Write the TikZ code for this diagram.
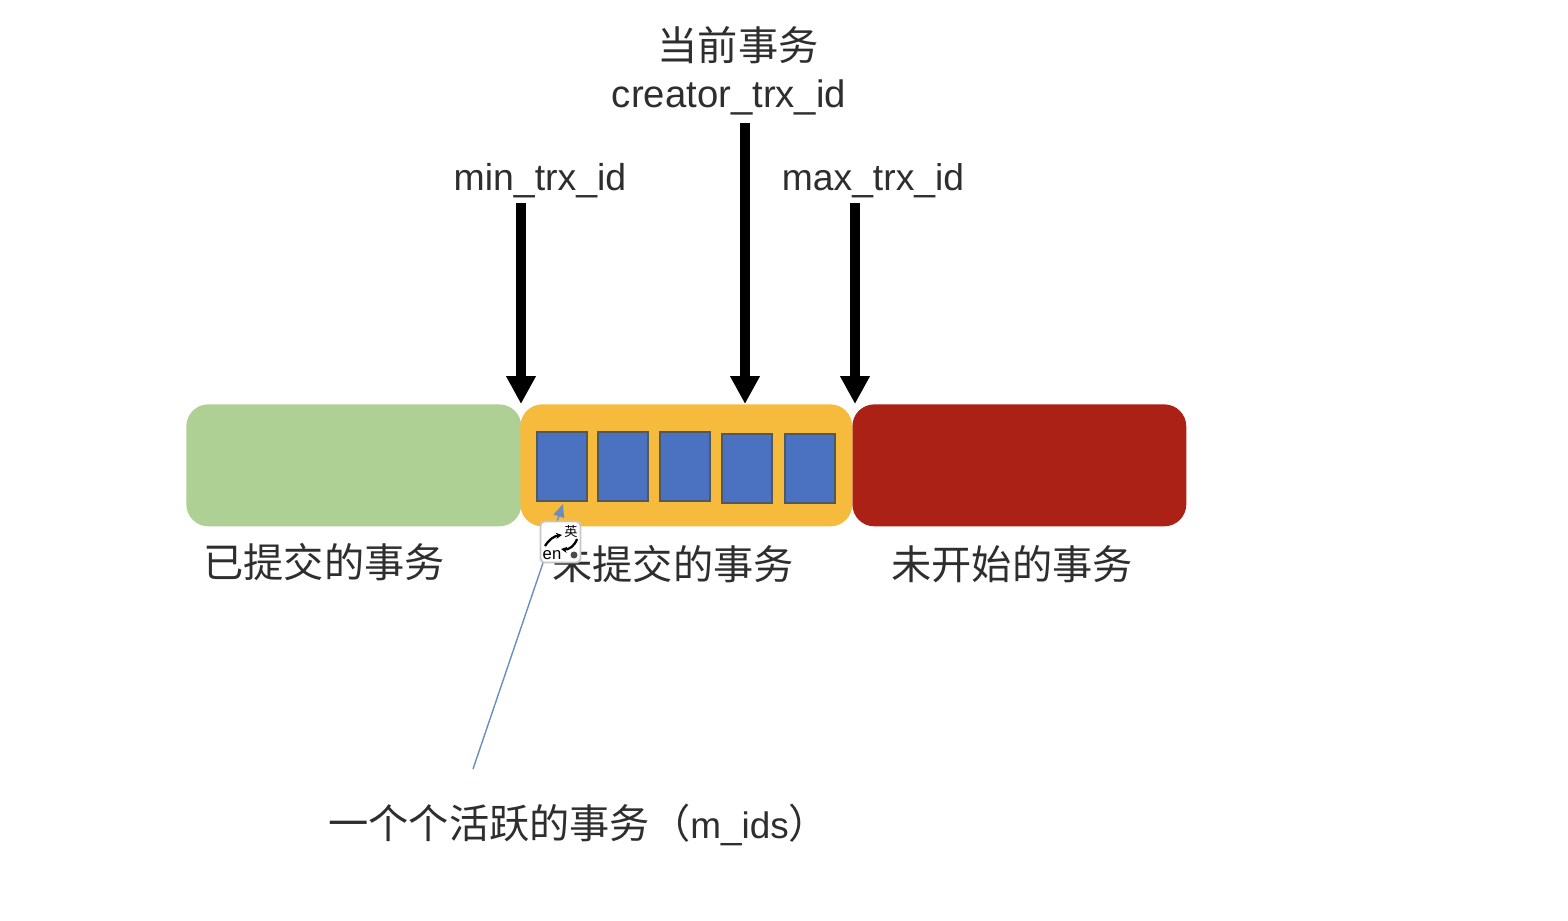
\documentclass[tikz,border=0pt]{standalone}
\usepackage{fontspec}
\setmainfont{Liberation Sans}
\newfontfamily\cjk{Noto Sans CJK SC}
\usetikzlibrary{arrows.meta}
\definecolor{doneGreen}{HTML}{AFD095}
\definecolor{activeOrange}{HTML}{F6BB3C}
\definecolor{futureRed}{HTML}{AB2115}
\definecolor{trxBlue}{HTML}{4A72C0}
\definecolor{trxEdge}{HTML}{4F5A60}
\definecolor{thinBlue}{HTML}{6C8EBF}
\definecolor{labelInk}{HTML}{2E2E2E}
\begin{document}
\begin{tikzpicture}[x=0.02cm, y=-0.02cm,
    segment/.style={rounded corners=0.44cm, minimum height=2.44cm, inner sep=0pt, anchor=north west},
    trx/.style={draw=trxEdge, line width=1.1pt, fill=trxBlue, inner sep=0pt, anchor=north west, minimum width=1.0cm, minimum height=1.38cm},
    pointer/.style={line width=0.2cm, -{Triangle[width=0.56cm, length=0.56cm]}},
    cnlabel/.style={font=\cjk\fontsize{22.9}{26}\selectfont, text=labelInk, inner sep=0pt},
    idlabel/.style={font=\fontsize{21.8}{24}\selectfont, text=labelInk, inner sep=0pt},
    badgetrail/.style={line width=1.3pt, -{Stealth[length=0.12cm, width=0.12cm]}}]
  % the page, in pixels of the reference
  \useasboundingbox (0,0) rectangle (1568,920);

  % three segments of the transaction line
  \node[segment, fill=doneGreen, minimum width=6.7cm] (done) at (186,404) {};
  \node[segment, fill=futureRed, minimum width=6.68cm] (future) at (852,404) {};
  \node[segment, fill=activeOrange, minimum width=6.64cm] (active) at (520,404) {};

  % active transactions
  \node[trx] (trxa) at (536,431) {};
  \node[trx] (trxb) at (597,431) {};
  \node[trx] (trxc) at (659,431) {};
  \node[trx] (trxd) at (721,433) {};
  \node[trx] (trxe) at (784,433) {};

  % labels
  \node[cnlabel] (curname) at (738,45) {当前事务};
  \node[idlabel] (curid) at (729,97) {creator\_trx\_id};
  \node[idlabel, font=\fontsize{21.3}{24}\selectfont] (minid) at (540,181) {min\_trx\_id};
  \node[idlabel, font=\fontsize{21.2}{24}\selectfont] (maxid) at (873,181) {max\_trx\_id};
  \node[cnlabel] (donelabel) at (324,562) {已提交的事务};
  \node[cnlabel] (activelabel) at (673,564) {未提交的事务};
  \node[cnlabel] (futurelabel) at (1012,564) {未开始的事务};
  \node[cnlabel, anchor=west] (idslabel) at (328,825) {一个个活跃的事务（{\rmfamily\fontsize{21}{24}\selectfont m\_ids}）};

  % pointers
  \coordinate (minstart) at (521,203);
  \coordinate (minend) at (521,404);
  \coordinate (curstart) at (745,123);
  \coordinate (curend) at (745,404);
  \coordinate (maxstart) at (855,203);
  \coordinate (maxend) at (855,404);
  \draw[pointer] (minstart) -- (minend);
  \draw[pointer] (curstart) -- (curend);
  \draw[pointer] (maxstart) -- (maxend);

  \coordinate (idsstart) at (473,769);
  \coordinate (idsend) at (563,504);
  \draw[thinBlue, line width=0.8pt, -{Triangle[width=0.22cm, length=0.26cm]}] (idsstart) -- (idsend);

  % input method badge
  \node[draw=black!22, line width=1.1pt, fill=white, rounded corners=0.08cm, minimum width=0.8cm,
        minimum height=0.82cm, inner sep=0pt] (badge) at (560.5,542) {};
  \node[font=\cjk\fontsize{7.5}{8}\selectfont, inner sep=0pt] (badgecn) at (571,531) {英};
  \node[font=\fontsize{9.5}{10}\selectfont, inner sep=0pt] (badgeen) at (552,555) {en};
  \coordinate (upfrom) at (545,546);
  \coordinate (upto) at (562,535);
  \coordinate (downfrom) at (577,539);
  \coordinate (downto) at (561,549);
  \draw[badgetrail] (upfrom) to[bend left=25] (upto);
  \draw[badgetrail] (downfrom) to[bend left=40] (downto);
  \fill[black!70] (574,555) circle[radius=0.07cm];
\end{tikzpicture}
\end{document}
